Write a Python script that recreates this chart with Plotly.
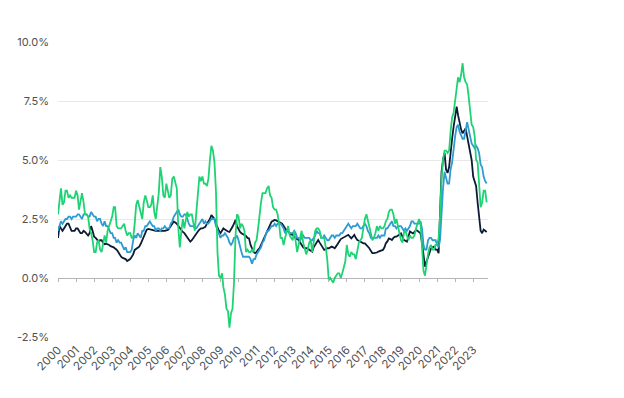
import pandas as pd
import plotly.graph_objects as go

# Monthly year-over-year rates (%), Jan 2000 - Oct 2023
headline = [
    2.7, 3.2, 3.8, 3.1, 3.2, 3.7, 3.7, 3.4, 3.5, 3.4, 3.4, 3.4,
    3.7, 3.5, 2.9, 3.3, 3.6, 3.2, 2.7, 2.7, 2.6, 2.1, 1.9, 1.6,
    1.1, 1.1, 1.5, 1.6, 1.2, 1.1, 1.5, 1.8, 1.5, 2.0, 2.2, 2.4,
    2.6, 3.0, 3.0, 2.2, 2.1, 2.1, 2.1, 2.2, 2.3, 2.0, 1.8, 1.9,
    1.9, 1.7, 1.7, 2.3, 3.1, 3.3, 3.0, 2.7, 2.5, 3.2, 3.5, 3.3,
    3.0, 3.0, 3.1, 3.5, 2.8, 2.5, 3.2, 3.6, 4.7, 4.3, 3.5, 3.4,
    4.0, 3.6, 3.4, 3.5, 4.2, 4.3, 4.1, 3.8, 2.1, 1.3, 2.0, 2.5,
    2.1, 2.4, 2.8, 2.6, 2.7, 2.7, 2.4, 2.0, 2.8, 3.5, 4.3, 4.1,
    4.3, 4.0, 4.0, 3.9, 4.2, 5.0, 5.6, 5.4, 4.9, 3.7, 1.1, 0.1,
    0.0, 0.2, -0.4, -0.7, -1.3, -1.4, -2.1, -1.5, -1.3, -0.2, 1.8, 2.7,
    2.6, 2.1, 2.3, 2.2, 2.0, 1.1, 1.2, 1.1, 1.1, 1.2, 1.1, 1.5,
    1.6, 2.1, 2.7, 3.2, 3.6, 3.6, 3.6, 3.8, 3.9, 3.5, 3.4, 3.0,
    2.9, 2.9, 2.7, 2.3, 1.7, 1.7, 1.4, 1.7, 2.0, 2.2, 1.8, 1.7,
    1.6, 2.0, 1.5, 1.1, 1.4, 1.8, 2.0, 1.5, 1.2, 1.0, 1.2, 1.5,
    1.6, 1.1, 1.5, 2.0, 2.1, 2.1, 2.0, 1.7, 1.7, 1.7, 1.3, 0.8,
    -0.1, 0.0, -0.1, -0.2, 0.0, 0.1, 0.2, 0.2, 0.0, 0.2, 0.5, 0.7,
    1.4, 1.0, 0.9, 1.1, 1.0, 1.0, 0.8, 1.1, 1.5, 1.6, 1.7, 2.1,
    2.5, 2.7, 2.4, 2.2, 1.9, 1.6, 1.7, 1.9, 2.2, 2.0, 2.2, 2.1,
    2.1, 2.2, 2.4, 2.5, 2.8, 2.9, 2.9, 2.7, 2.3, 2.5, 2.2, 1.9,
    1.6, 1.5, 1.9, 2.0, 1.8, 1.6, 1.8, 1.7, 1.7, 1.8, 2.1, 2.3,
    2.5, 2.3, 1.5, 0.3, 0.1, 0.6, 1.0, 1.3, 1.4, 1.2, 1.2, 1.4,
    1.4, 1.7, 2.6, 4.2, 5.0, 5.4, 5.4, 5.3, 5.4, 6.2, 6.8, 7.0,
    7.5, 7.9, 8.5, 8.3, 8.6, 9.1, 8.5, 8.3, 8.2, 7.7, 7.1, 6.5,
    6.4, 6.0, 5.0, 4.9, 4.0, 3.0, 3.2, 3.7, 3.7, 3.2,
]

core = [
    2.0, 2.2, 2.4, 2.3, 2.4, 2.5, 2.5, 2.6, 2.6, 2.5, 2.6, 2.6,
    2.6, 2.7, 2.7, 2.6, 2.5, 2.7, 2.7, 2.7, 2.6, 2.6, 2.8, 2.7,
    2.6, 2.6, 2.4, 2.5, 2.5, 2.3, 2.2, 2.4, 2.2, 2.2, 2.0, 1.9,
    1.9, 1.7, 1.7, 1.5, 1.6, 1.5, 1.5, 1.3, 1.2, 1.3, 1.1, 1.1,
    1.1, 1.2, 1.6, 1.8, 1.7, 1.9, 1.8, 1.7, 2.0, 2.0, 2.2, 2.2,
    2.3, 2.4, 2.3, 2.2, 2.2, 2.0, 2.1, 2.1, 2.0, 2.1, 2.1, 2.2,
    2.1, 2.1, 2.1, 2.3, 2.4, 2.6, 2.7, 2.8, 2.9, 2.7, 2.6, 2.6,
    2.7, 2.7, 2.5, 2.3, 2.2, 2.2, 2.2, 2.1, 2.1, 2.2, 2.3, 2.4,
    2.5, 2.3, 2.4, 2.3, 2.3, 2.4, 2.5, 2.5, 2.5, 2.2, 2.0, 1.8,
    1.7, 1.8, 1.8, 1.9, 1.8, 1.7, 1.5, 1.4, 1.5, 1.7, 1.7, 1.8,
    1.6, 1.3, 1.1, 0.9, 0.9, 0.9, 0.9, 0.9, 0.8, 0.6, 0.8, 0.8,
    1.0, 1.1, 1.2, 1.3, 1.5, 1.6, 1.8, 2.0, 2.0, 2.1, 2.2, 2.2,
    2.3, 2.2, 2.3, 2.3, 2.3, 2.2, 2.1, 1.9, 2.0, 2.0, 1.9, 1.9,
    1.9, 2.0, 1.9, 1.7, 1.7, 1.6, 1.7, 1.8, 1.7, 1.7, 1.7, 1.7,
    1.6, 1.6, 1.7, 1.8, 2.0, 1.9, 1.9, 1.7, 1.7, 1.8, 1.7, 1.6,
    1.6, 1.7, 1.8, 1.8, 1.7, 1.8, 1.8, 1.8, 1.9, 1.9, 2.0, 2.1,
    2.2, 2.3, 2.2, 2.1, 2.2, 2.2, 2.2, 2.3, 2.2, 2.1, 2.1, 2.2,
    2.3, 2.2, 2.0, 1.9, 1.7, 1.7, 1.7, 1.7, 1.7, 1.8, 1.7, 1.8,
    1.8, 1.8, 2.1, 2.1, 2.2, 2.3, 2.4, 2.2, 2.2, 2.1, 2.2, 2.2,
    2.2, 2.1, 2.0, 2.1, 2.0, 2.1, 2.2, 2.4, 2.4, 2.3, 2.3, 2.3,
    2.3, 2.4, 2.1, 1.4, 1.2, 1.2, 1.6, 1.7, 1.7, 1.6, 1.6, 1.6,
    1.4, 1.3, 1.6, 3.0, 3.8, 4.5, 4.3, 4.0, 4.0, 4.6, 4.9, 5.5,
    6.0, 6.4, 6.5, 6.2, 6.0, 5.9, 5.9, 6.3, 6.6, 6.3, 6.0, 5.7,
    5.6, 5.5, 5.6, 5.5, 5.3, 4.8, 4.7, 4.3, 4.1, 4.0,
]

core_ex_shelter = [
    1.7, 2.2, 2.1, 2.0, 2.1, 2.2, 2.3, 2.3, 2.1, 2.0, 2.0, 2.0,
    2.1, 2.1, 2.0, 1.9, 1.9, 2.0, 1.95, 1.85, 1.8, 1.9, 2.2, 2.0,
    1.75, 1.7, 1.6, 1.55, 1.6, 1.6, 1.5, 1.43, 1.45, 1.43, 1.4, 1.35,
    1.33, 1.3, 1.25, 1.2, 1.11, 1.0, 0.9, 0.85, 0.83, 0.8, 0.72, 0.75,
    0.8, 0.9, 1.0, 1.19, 1.25, 1.3, 1.33, 1.45, 1.61, 1.8, 1.97, 2.05,
    2.08, 2.06, 2.05, 2.04, 2.02, 2.0, 2.0, 2.0, 1.98, 1.97, 1.98, 2.0,
    2.02, 2.04, 2.1, 2.2, 2.3, 2.39, 2.35, 2.3, 2.2, 2.1, 2.0, 1.95,
    1.9, 1.8, 1.68, 1.6, 1.54, 1.6, 1.7, 1.75, 1.85, 1.97, 2.05, 2.1,
    2.1, 2.12, 2.17, 2.3, 2.39, 2.5, 2.67, 2.6, 2.5, 2.3, 2.1, 2.0,
    1.9, 2.0, 2.1, 2.05, 2.0, 1.97, 1.95, 2.1, 2.17, 2.3, 2.46, 2.2,
    2.05, 1.95, 1.89, 1.85, 1.83, 1.78, 1.7, 1.68, 1.4, 1.26, 1.1, 1.05,
    1.1, 1.2, 1.26, 1.4, 1.54, 1.65, 1.83, 1.95, 2.1, 2.2, 2.39, 2.42,
    2.46, 2.44, 2.41, 2.39, 2.35, 2.3, 2.2, 2.1, 2.0, 1.97, 1.9, 1.85,
    1.83, 1.75, 1.68, 1.65, 1.61, 1.5, 1.4, 1.3, 1.26, 1.26, 1.26, 1.2,
    1.15, 1.12, 1.3, 1.4, 1.5, 1.61, 1.5, 1.4, 1.3, 1.19, 1.22, 1.26,
    1.26, 1.3, 1.33, 1.3, 1.26, 1.35, 1.47, 1.55, 1.65, 1.68, 1.72, 1.75,
    1.8, 1.83, 1.75, 1.68, 1.75, 1.83, 1.7, 1.61, 1.58, 1.54, 1.5, 1.47,
    1.47, 1.4, 1.3, 1.26, 1.15, 1.05, 1.05, 1.05, 1.08, 1.12, 1.15, 1.19,
    1.19, 1.3, 1.47, 1.55, 1.68, 1.65, 1.61, 1.7, 1.75, 1.75, 1.8, 1.83,
    1.89, 1.75, 1.61, 1.58, 1.54, 1.75, 1.97, 1.93, 1.89, 1.95, 2.03, 2.0,
    1.95, 1.89, 1.5, 0.9, 0.48, 0.7, 0.9, 1.1, 1.26, 1.3, 1.33, 1.2,
    1.2, 1.05, 2.7, 4.5, 5.0, 5.3, 4.6, 4.45, 4.7, 5.4, 5.9, 6.4,
    6.9, 7.26, 6.9, 6.55, 6.3, 6.13, 6.25, 6.34, 6.0, 5.7, 5.3, 5.0,
    4.3, 4.1, 3.9, 3.2, 2.6, 2.0, 1.9, 2.05, 2.0, 1.95,
]

year_labels = [str(y) for y in range(2000, 2024)]
y_ticks = [-2.5, 0, 2.5, 5, 7.5, 10]
y_tick_labels = ["-2.5%", "0.0%", "2.5%", "5.0%", "7.5%", "10.0%"]

dates = pd.date_range("2000-01-01", periods=len(headline), freq="MS")
tick_dates = [f"{y}-01-01" for y in year_labels]

NAVY = "#0c1b33"
BLUE = "#2f9bd3"
GREEN = "#1ed374"
FONT = "Inter"
TXT = "#505050"

fig = go.Figure()
fig.add_trace(go.Scatter(x=dates, y=core_ex_shelter, mode="lines",
                         line=dict(color=NAVY, width=1.8), name="navy"))
fig.add_trace(go.Scatter(x=dates, y=core, mode="lines",
                         line=dict(color=BLUE, width=1.8), name="blue"))
fig.add_trace(go.Scatter(x=dates, y=headline, mode="lines",
                         line=dict(color=GREEN, width=1.8), name="green"))
# invisible trace carrying the zero-line tick axis
fig.add_trace(go.Scatter(x=dates, y=headline, xaxis="x2", mode="lines",
                         line=dict(width=0), opacity=0, hoverinfo="skip",
                         showlegend=False))

x_range = ["2000-01-01", "2023-10-28"]

fig.update_layout(
    width=624, height=398,
    margin=dict(l=50, r=144, t=34, b=69),
    paper_bgcolor="white", plot_bgcolor="white",
    showlegend=False,
    font=dict(family=FONT, size=11, color=TXT),
    xaxis=dict(
        type="date", range=x_range, automargin=False,
        tickmode="array", tickvals=tick_dates, ticktext=year_labels,
        tickangle=-45, showgrid=False, zeroline=False, showline=False,
        ticks="", ticklabelstandoff=3,
        tickfont=dict(family=FONT, size=11.5, color=TXT),
    ),
    xaxis2=dict(
        type="date", range=x_range, overlaying="x", matches="x",
        anchor="free", position=0.2, side="bottom", automargin=False,
        tickmode="array", tickvals=tick_dates, showticklabels=False,
        ticks="outside", ticklen=3, tickcolor="#b5b5b5", tickwidth=1,
        showline=False, showgrid=False, zeroline=False,
    ),
    yaxis=dict(
        range=[-2.5, 10], automargin=False,
        tickmode="array", tickvals=y_ticks, ticktext=y_tick_labels,
        showgrid=True, gridcolor="#e8e8e8", gridwidth=1,
        zeroline=True, zerolinecolor="#b5b5b5", zerolinewidth=1,
        showline=False, ticks="", ticklabelstandoff=8,
        tickfont=dict(family=FONT, size=11, color=TXT),
    ),
)

fig.write_html("out.html")
